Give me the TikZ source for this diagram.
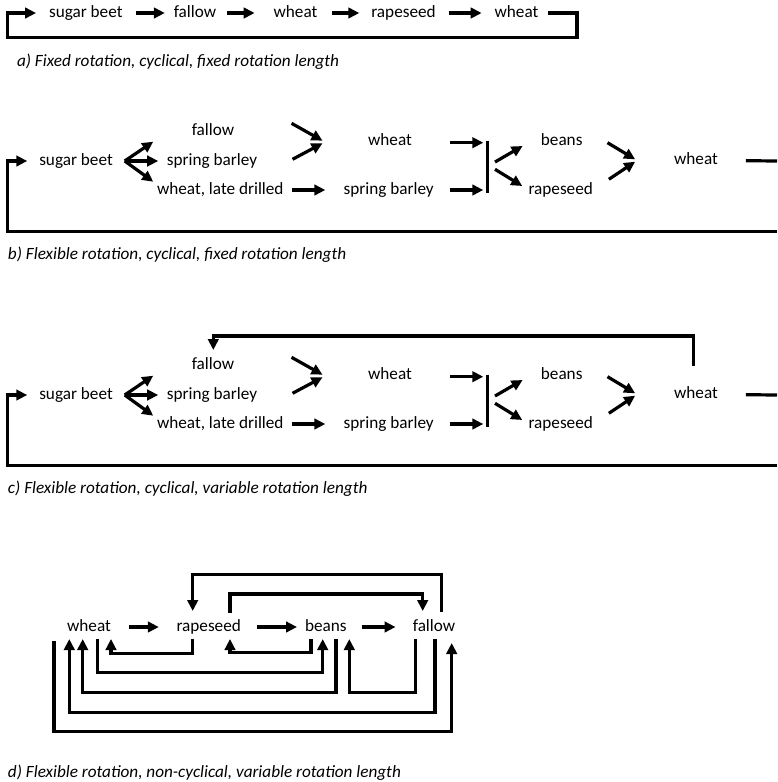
\documentclass[tikz,border=0pt]{standalone}
\usepackage{fontspec}
\setmainfont{Carlito}
\usetikzlibrary{arrows.meta,calc}
\tikzset{
  txt/.style={font=\fontsize{17.2}{20}\selectfont, inner sep=0pt, outer sep=0pt, text height=12pt, text depth=4pt},
  captxt/.style={font=\fontsize{17.2}{20}\selectfont\itshape, inner sep=0pt, outer sep=0pt, anchor=west, text height=12pt, text depth=4pt},
  ln/.style={line width=3.2pt},
  arr/.style={ln, -{Triangle[length=11pt,width=10.5pt]}},
}
\newcommand\flexrow[1]{%
  \node[txt] (#1sb) at (76,161) {sugar beet};
  \node[txt] (#1fa) at (213,131.7) {fallow};
  \node[txt] (#1sp) at (212,161) {spring barley};
  \node[txt] (#1wl) at (220.3,190) {wheat, late drilled};
  \node[txt] (#1wh) at (390,141.7) {wheat};
  \node[txt] (#1sq) at (388.7,190) {spring barley};
  \node[txt] (#1be) at (561.7,141) {beans};
  \node[txt] (#1ra) at (560.7,190) {rapeseed};
  \node[txt] (#1wf) at (696,160.7) {wheat};
  \coordinate (#1bt) at (487.7,140.7);
  \coordinate (#1bb) at (487.7,193.3);
  % fan out of sugar beet
  \draw[arr] ($(#1sb.east)+(12,0)$) -- ($(#1sp.west)+(-13.7,-19.3)$);
  \draw[arr] ($(#1sb.east)+(12,0)$) -- ($(#1sp.west)+(-8.7,0)$);
  \draw[arr] ($(#1sb.east)+(12,0)$) -- ($(#1sp.west)+(-13.7,20.7)$);
  % into wheat
  \draw[arr] ($(#1wh.west)+(-76.6,-18.4)$) -- ($(#1wh.west)+(-45.6,-1)$);
  \draw[arr] ($(#1wh.west)+(-75.6,17.6)$) -- ($(#1wh.west)+(-45.6,1.6)$);
  \draw[arr] ($(#1wl.east)+(8.4,0)$) -- ($(#1sq.west)+(-18.3,0)$);
  % into the bar
  \draw[arr] ($(#1wh.east)+(38,1)$) -- ($(#1bt)+(-4.4,2)$);
  \draw[arr] ($(#1sq.east)+(16,0)$) -- ($(#1bb)+(-4.4,-3.3)$);
  \draw[ln] (#1bt) -- (#1bb);
  % out of the bar
  \draw[arr] ($(#1bt)+(7.3,21.3)$) -- ($(#1be.west)+(-18.3,5)$);
  \draw[arr] ($(#1bt)+(7.3,28.6)$) -- ($(#1ra.west)+(-6.3,-4)$);
  % into last wheat
  \draw[arr] ($(#1be.east)+(25,1.7)$) -- ($(#1wf.west)+(-39,-1.4)$);
  \draw[arr] ($(#1ra.east)+(16,-10.7)$) -- ($(#1wf.west)+(-39,1)$);
  % loop back
  \draw[ln] ($(#1wf.east)+(28,0)$) -- (777,161);
  \draw[arr] (777,231.7) -| (7.3,161) -- ($(#1sb.west)+(-12,0)$);
}
\begin{document}
\begin{tikzpicture}[x=1pt,y=-1pt]
\useasboundingbox[fill=white] (0,0) rectangle (777,782);

% ---------- a ----------
\node[txt] (a1) at (85.8,13) {sugar beet};
\node[txt] (a2) at (195,13) {fallow};
\node[txt] (a3) at (295.5,13) {wheat};
\node[txt] (a4) at (403.5,13) {rapeseed};
\node[txt] (a5) at (516.5,13) {wheat};
\draw[arr] ($(a1.east)+(13,0)$) -- ($(a2.west)+(-9,0)$);
\draw[arr] ($(a2.east)+(11,0)$) -- ($(a3.west)+(-19,0)$);
\draw[arr] ($(a3.east)+(14.7,0)$) -- ($(a4.west)+(-12,0)$);
\draw[arr] ($(a4.east)+(13,0)$) -- ($(a5.west)+(-13,0)$);
\draw[arr] ($(a5.east)+(10,0)$) -- (577,13) |- (7.5,37.5) |- ($(a1.west)+(-13,0)$);
\node[captxt] (ca) at (17,62) {a) Fixed rotation, cyclical, fixed rotation length};

% ---------- b ----------
\flexrow{b}
\node[captxt] (cb) at (8,255) {b) Flexible rotation, cyclical, fixed rotation length};

% ---------- c ----------
\begin{scope}[shift={(0,234)}]
\flexrow{c}
\end{scope}
\draw[arr] ($(cwf)+(-2.7,-28.7)$) -- ++(0,-30) -| ($(cfa)+(0.3,-15.7)$);
\node[captxt] (cc) at (8,489) {c) Flexible rotation, cyclical, variable rotation length};

% ---------- d ----------
\node[txt] (dw) at (89,627) {wheat};
\node[txt] (dr) at (208.7,627) {rapeseed};
\node[txt] (db) at (325.8,627) {beans};
\node[txt] (df) at (434,627) {fallow};
\draw[arr] ($(dw.east)+(18,0)$) -- ($(dr.west)+(-17.7,0)$);
\draw[arr] ($(dr.east)+(16.3,0)$) -- ($(db.west)+(-8,0)$);
\draw[arr] ($(db.east)+(15,0)$) -- ($(df.west)+(-17.3,0)$);
% above
\draw[arr] ($(df)+(7.7,-15)$) -- ++(0,-37.5) -| ($(dr)+(-16,-16)$);
\draw[arr] ($(dr)+(21.3,-14)$) -- ++(0,-19) -| ($(df)+(-11.3,-16)$);
% below
\draw[arr] ($(dr)+(-16,12)$) -- ++(0,14.3) -| ($(dw)+(22,12)$);
\draw[arr] ($(db)+(-14.8,12)$) -- ++(0,13.3) -| ($(dr)+(21.3,12)$);
\draw[arr] ($(dw)+(8.3,12)$) -- ++(0,33.3) -| ($(db)+(-3.1,12)$);
\draw[arr] ($(db)+(10.2,12)$) -- ++(0,53.3) -| ($(dw)+(-6.3,12)$);
\draw[arr] ($(df)+(-18.3,12)$) -- ++(0,53.3) -| ($(db)+(23.5,12)$);
\draw[arr] ($(df)+(1,12)$) -- ++(0,73.3) -| ($(dw)+(-19.7,12)$);
\draw[arr] ($(dw)+(-35,14)$) -- ++(0,90.7) -| ($(df)+(17.7,16)$);
\node[captxt] (cd) at (8,773) {d) Flexible rotation, non-cyclical, variable rotation length};
\end{tikzpicture}
\end{document}
